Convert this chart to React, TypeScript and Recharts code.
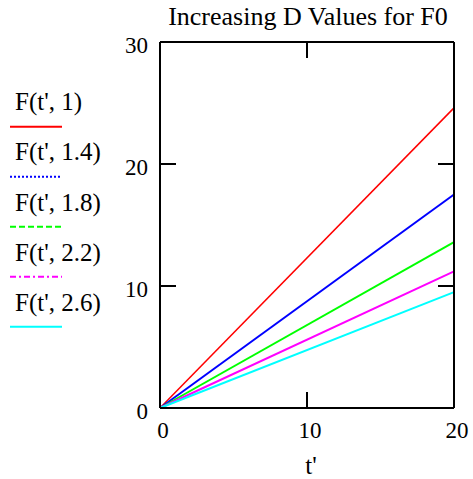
import React from "react"
import { LineChart, Line, XAxis, YAxis, Legend } from "recharts"

// t' values at the two ends of each (straight) line
const tValues = [0, 20]

// D values shown in the legend
const dValues = ["1", "1.4", "1.8", "2.2", "2.6"]

// F(t', D) at t' = 0 and t' = 20
const fD10 = [0, 24.6]
const fD14 = [0, 17.5]
const fD18 = [0, 13.6]
const fD22 = [0, 11.2]
const fD26 = [0, 9.5]

const xTicks = [0, 10, 20]
const yTicks = [0, 10, 20, 30]

const seriesValues = [fD10, fD14, fD18, fD22, fD26]
const colors = ["#ff0000", "#0000ff", "#00ff00", "#ff00ff", "#00ffff"]
const legendDash = ["", "2 2", "6 3", "6 3 2 3", ""]
const lineWidths = [1.5, 2, 2, 2, 2]

const keys = dValues.map((_, i) => `f${i}`)

const chartData = tValues.map((t, row) => {
  const entry: Record<string, number> = { t }
  keys.forEach((k, i) => {
    entry[k] = seriesValues[i][row]
  })
  return entry
})

const FONT = "Liberation Serif, Tinos, Times New Roman, DejaVu Serif, serif"
const TICK = 16

const txt = (size: number) => ({ fontFamily: FONT, fontSize: size })

// left axis: label outside, tick mark pointing into the plot
const LeftTick = ({ x, y, payload }: any) => (
  <g>
    <path d={`M${x + 12},${y}h${TICK}`} stroke="#000" strokeWidth={2} fill="none" />
    <text x={x} y={y + 11} textAnchor="end" style={txt(23)} fill="#000">
      {payload.value}
    </text>
  </g>
)

const BottomTick = ({ x, y, payload }: any) => (
  <text x={x + 3} y={y + 8} textAnchor="middle" style={txt(23)} fill="#000">
    {payload.value}
  </text>
)

// top / right axes: tick marks only, no labels
const TopTick = ({ x, y }: any) => (
  <path d={`M${x},${y}v${TICK}`} stroke="#000" strokeWidth={2} fill="none" />
)

const RightTick = ({ x, y }: any) => (
  <path d={`M${x},${y}h${-TICK}`} stroke="#000" strokeWidth={2} fill="none" />
)

const frame = { stroke: "#000", strokeWidth: 2 }

const renderLegend = () => (
  <svg width={110} height={340}>
    {dValues.map((d, i) => (
      <g key={d}>
        <text x={15} y={110 + 50.3 * i} style={txt(25)} fill="#000">
          {`F(t', ${d})`}
        </text>
        <line
          x1={10}
          x2={62}
          y1={126.7 + 50 * i}
          y2={126.7 + 50 * i}
          stroke={colors[i]}
          strokeWidth={2}
          strokeDasharray={legendDash[i] || undefined}
        />
      </g>
    ))}
  </svg>
)

export default function App() {
  return (
    <div style={{ position: "absolute", left: 0, top: 0, width: 473, height: 479, background: "#fff" }}>
      <LineChart
        width={473}
        height={479}
        data={chartData}
        margin={{ top: 41, right: 18, bottom: 0, left: 0 }}
      >
        <XAxis
          dataKey="t"
          type="number"
          domain={[0, 20]}
          ticks={xTicks}
          height={71}
          axisLine={frame}
          tickLine={frame}
          tickSize={-TICK}
          tickMargin={38}
          tick={<BottomTick />}
          label={{
            content: ({ viewBox }: any) => (
              <text
                x={viewBox.x + viewBox.width / 2 + 4}
                y={474}
                textAnchor="middle"
                style={txt(25)}
                fill="#000"
              >
                t'
              </text>
            ),
          }}
        />
        <XAxis
          xAxisId="top"
          dataKey="t"
          type="number"
          orientation="top"
          domain={[0, 20]}
          ticks={xTicks}
          interval={0}
          height={1}
          axisLine={frame}
          tickLine={false}
          tickSize={0}
          tickMargin={0}
          tick={<TopTick />}
          label={{
            content: ({ viewBox }: any) => (
              <text
                x={viewBox.x + viewBox.width / 2 + 1}
                y={25}
                textAnchor="middle"
                style={txt(26)}
                fill="#000"
              >
                Increasing D Values for F0
              </text>
            ),
          }}
        />
        <YAxis
          type="number"
          domain={[0, 30]}
          ticks={yTicks}
          width={160}
          axisLine={frame}
          tickLine={false}
          tickSize={0}
          tickMargin={12}
          tick={<LeftTick />}
        />
        <YAxis
          yAxisId="right"
          orientation="right"
          type="number"
          domain={[0, 30]}
          ticks={yTicks}
          interval={0}
          width={1}
          axisLine={frame}
          tickLine={false}
          tickSize={0}
          tickMargin={0}
          tick={<RightTick />}
        />
        <Legend
          layout="horizontal"
          verticalAlign="middle"
          align="center"
          wrapperStyle={{ left: 0, top: 0, width: 110, height: 340 }}
          content={renderLegend}
        />
        {keys.map((k, i) => (
          <Line
            key={k}
            dataKey={k}
            name={`F(t', ${dValues[i]})`}
            xAxisId={i === keys.length - 1 ? "top" : 0}
            yAxisId={i === keys.length - 1 ? "right" : 0}
            stroke={colors[i]}
            strokeWidth={lineWidths[i]}
            dot={false}
            activeDot={false}
            isAnimationActive={false}
          />
        ))}
      </LineChart>
    </div>
  )
}
